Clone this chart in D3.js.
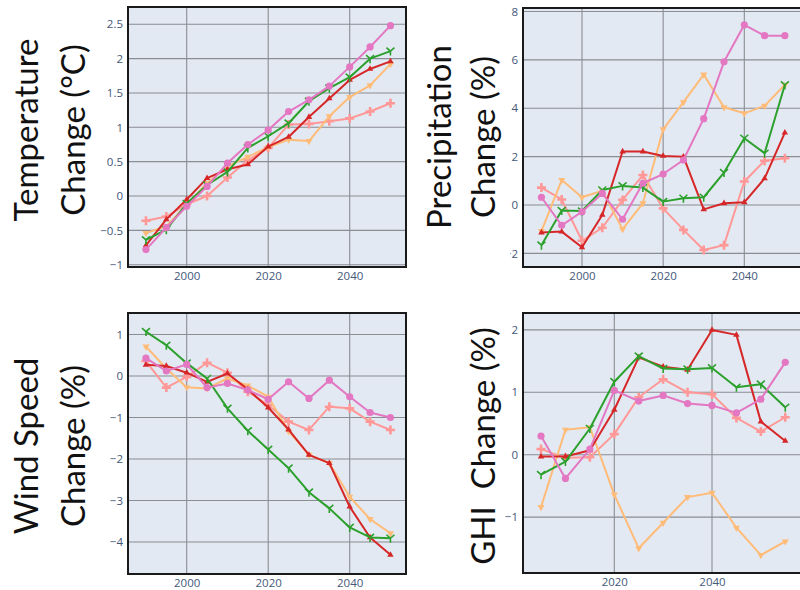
<!DOCTYPE html>
<html><head><meta charset="utf-8">
<script src="https://cdn.jsdelivr.net/npm/d3@7"></script>
<style>
html,body{margin:0;padding:0;background:#fff;}
svg{display:block;}
</style></head>
<body>
<svg id="c" width="800" height="590"></svg>
<script>
// ---------- data ----------
const years = [1990,1995,2000,2005,2010,2015,2020,2025,2030,2035,2040,2045,2050];
const yearsGHI = [2005,2010,2015,2020,2025,2030,2035,2040,2045,2050,2055];

const tempPink   = [-0.78,-0.46,-0.15,0.14,0.48,0.75,0.96,1.23,1.40,1.60,1.88,2.17,2.48];
const tempGreen  = [-0.64,-0.49,-0.11,0.16,0.35,0.70,0.87,1.06,1.38,1.57,1.73,2.00,2.11];
const tempRed    = [-0.72,-0.34,-0.05,0.26,0.39,0.46,0.72,0.86,1.15,1.42,1.69,1.85,1.96];
const tempOrange = [-0.54,-0.44,-0.13,0.19,0.43,0.57,0.71,0.82,0.80,1.16,1.44,1.61,1.92];
const tempSalmon = [-0.36,-0.30,-0.12,0.00,0.27,0.52,0.70,1.04,1.05,1.09,1.13,1.23,1.35];

const precPink   = [0.32,-0.84,-0.28,0.48,-0.59,0.90,1.28,1.86,3.57,5.92,7.45,7.00,7.00];
const precGreen  = [-1.66,-0.23,-0.25,0.62,0.79,0.72,0.14,0.28,0.32,1.34,2.76,2.14,4.97];
const precRed    = [-1.14,-1.10,-1.75,-0.41,2.21,2.21,2.03,2.00,-0.18,0.07,0.11,1.10,2.99];
const precOrange = [-1.08,1.03,0.32,0.59,-1.00,0.07,3.13,4.25,5.39,4.04,3.79,4.10,4.97];
const precSalmon = [0.72,0.23,-1.48,-0.94,0.21,1.24,-0.14,-1.03,-1.86,-1.66,0.97,1.83,1.93];

const windPink   = [0.43,0.12,0.28,-0.28,-0.18,-0.34,-0.56,-0.14,-0.54,-0.10,-0.50,-0.88,-1.00];
const windGreen  = [1.07,0.74,0.31,-0.06,-0.78,-1.32,-1.77,-2.22,-2.80,-3.19,-3.65,-3.89,-3.91];
const windRed    = [0.27,0.24,0.08,-0.14,0.06,-0.32,-0.76,-1.29,-1.90,-2.10,-3.15,-3.89,-4.31];
const windOrange = [0.71,0.18,-0.27,-0.30,-0.06,-0.23,-0.50,-1.33,-1.90,-2.10,-2.91,-3.45,-3.79];
const windSalmon = [0.36,-0.28,-0.02,0.32,0.08,-0.38,-0.70,-1.10,-1.30,-0.74,-0.78,-1.10,-1.30];

const ghiPink   = [0.30,-0.38,0.09,1.03,0.86,0.95,0.82,0.79,0.67,0.89,1.48];
const ghiGreen  = [-0.32,-0.11,0.42,1.17,1.58,1.38,1.37,1.39,1.08,1.13,0.76];
const ghiRed    = [-0.03,-0.03,0.07,0.72,1.56,1.41,1.36,2.00,1.92,0.53,0.22];
const ghiOrange = [-0.84,0.40,0.44,-0.64,-1.50,-1.09,-0.68,-0.61,-1.17,-1.61,-1.39];
const ghiSalmon = [0.09,-0.05,-0.04,0.33,0.92,1.21,1.00,0.97,0.59,0.37,0.60];

const tempTicks = [-1,-0.5,0,0.5,1,1.5,2,2.5];
const precTicks = [-2,0,2,4,6,8];
const windTicks = [-4,-3,-2,-1,0,1];
const ghiTicks  = [-1,0,1,2];
const xTicks    = [2000,2020,2040];

// ---------- styles ----------
const colors = {pink:"#e377c2", green:"#2ca02c", red:"#d62728", orange:"#ffbb78", salmon:"#ff9896"};
const drawOrder = ["salmon","orange","red","green","pink"];

const svg = d3.select("#c");
const defs = svg.append("defs");

function marker(g, kind, x, y) {
  const c = colors[kind];
  if (kind === "pink") {
    g.append("circle").attr("cx", x).attr("cy", y).attr("r", 3.6).attr("fill", c);
  } else if (kind === "red") {
    g.append("path").attr("d", d3.symbol(d3.symbolTriangle, 18)()).attr("transform", `translate(${x},${y})`).attr("fill", c);
  } else if (kind === "orange") {
    g.append("path").attr("d", d3.symbol(d3.symbolTriangle, 22)()).attr("transform", `translate(${x},${y}) rotate(180)`).attr("fill", c);
  } else if (kind === "green") {
    g.append("path").attr("d", "M-4,-3.5L0,0L4,-3.5M0,0L0,4.5").attr("transform", `translate(${x},${y})`)
      .attr("stroke", c).attr("stroke-width", 1.6).attr("fill", "none");
  } else if (kind === "salmon") {
    g.append("path").attr("d", "M-4.5,0L4.5,0M0,-4.5L0,4.5").attr("transform", `translate(${x},${y})`)
      .attr("stroke", c).attr("stroke-width", 2.6).attr("fill", "none");
  }
}

function panel(opt) {
  const {id, x0, x1, y0, y1, xs, ys, xVals, series, yTicks, yFmt} = opt;
  const g = svg.append("g");
  const xT = xTicks.filter(t => xs(t) > x0 && xs(t) < x1);
  defs.append("clipPath").attr("id", "clip" + id)
    .append("rect").attr("x", x0).attr("y", y0).attr("width", x1 - x0).attr("height", y1 - y0);
  g.append("rect").attr("x", x0).attr("y", y0).attr("width", x1 - x0).attr("height", y1 - y0).attr("fill", "#e3e9f3");
  // grid
  const grid = g.append("g");
  grid.selectAll(".gy").data(yTicks).join("line")
    .attr("x1", x0).attr("x2", x1).attr("y1", d => ys(d)).attr("y2", d => ys(d))
    .attr("stroke", "#8a8d92").attr("stroke-width", 1.1);
  grid.selectAll(".gx").data(xT).join("line")
    .attr("x1", d => xs(d)).attr("x2", d => xs(d)).attr("y1", y0).attr("y2", y1)
    .attr("stroke", "#8a8d92").attr("stroke-width", 1.1);
  // series
  const plot = g.append("g").attr("clip-path", `url(#clip${id})`);
  drawOrder.forEach(k => {
    const vals = series[k];
    const pts = xVals.map((xv, i) => [xs(xv), ys(vals[i])]);
    plot.append("path").attr("d", d3.line()(pts)).attr("fill", "none")
      .attr("stroke", colors[k]).attr("stroke-width", 2).attr("stroke-linejoin", "round");
    const mg = plot.append("g");
    pts.forEach(p => marker(mg, k, p[0], p[1]));
  });
  // frame
  g.append("rect").attr("x", x0).attr("y", y0).attr("width", x1 - x0).attr("height", y1 - y0)
    .attr("fill", "none").attr("stroke", "#1a1a1a").attr("stroke-width", 2);
  // y axis labels
  const ya = g.append("g").attr("transform", `translate(${x0 - 5},0)`)
    .call(d3.axisLeft(ys).tickValues(yTicks).tickFormat(yFmt).tickSize(0).tickPadding(0));
  ya.select(".domain").remove();
  ya.selectAll("text").attr("fill", "#44587a").style("font-family", "'Open Sans', sans-serif").style("font-size", "11.5px");
  // x axis labels
  const xa = g.append("g").attr("transform", `translate(0,${y1 + 5})`)
    .call(d3.axisBottom(xs).tickValues(xT).tickFormat(d3.format("d")).tickSize(0).tickPadding(0));
  xa.select(".domain").remove();
  xa.selectAll("text").attr("fill", "#44587a").style("font-family", "'Open Sans', sans-serif").style("font-size", "11.5px");
  return g;
}

function mkSeries(p, g, r, o, s) { return {pink:p, green:g, red:r, orange:o, salmon:s}; }

const fmtMinus = d => d3.format("")(d).replace("-", "\u2212");

// Panel 1: Temperature
const xsL = d3.scaleLinear().domain([2000, 2040]).range([186.7, 349.7]);
panel({id:1, x0:128, x1:406, y0:7, y1:267, xs:xsL,
  ys: d3.scaleLinear().domain([0, 2.5]).range([196, 24.3]),
  xVals: years, series: mkSeries(tempPink,tempGreen,tempRed,tempOrange,tempSalmon),
  yTicks: tempTicks, yFmt: fmtMinus});

// Panel 2: Precipitation
const xsR = d3.scaleLinear().domain([2000, 2040]).range([582, 744.3]);
panel({id:2, x0:523, x1:812, y0:8, y1:267, xs:xsR,
  ys: d3.scaleLinear().domain([0, 8]).range([205, 11.5]),
  xVals: years, series: mkSeries(precPink,precGreen,precRed,precOrange,precSalmon),
  yTicks: precTicks, yFmt: fmtMinus});

// Panel 3: Wind
panel({id:3, x0:128, x1:406, y0:313, y1:574, xs:xsL,
  ys: d3.scaleLinear().domain([0, 1]).range([376, 334.5]),
  xVals: years, series: mkSeries(windPink,windGreen,windRed,windOrange,windSalmon),
  yTicks: windTicks, yFmt: fmtMinus});

// Panel 4: GHI
const xsG = d3.scaleLinear().domain([2020, 2040]).range([614.3, 712]);
panel({id:4, x0:523, x1:812, y0:313, y1:573, xs:xsG,
  ys: d3.scaleLinear().domain([0, 1]).range([454.7, 392.3]),
  xVals: yearsGHI, series: mkSeries(ghiPink,ghiGreen,ghiRed,ghiOrange,ghiSalmon),
  yTicks: ghiTicks, yFmt: d3.format("")});

// ---------- titles ----------
function title(lines, cy, box) {
  const g = svg.append("g");
  if (box) g.append("rect").attr("x", box[0]).attr("y", box[1]).attr("width", box[2]).attr("height", box[3]).attr("fill", "#fff");
  lines.forEach(l => {
    g.append("text").attr("transform", `translate(${l.x},${cy}) rotate(-90)`)
      .attr("text-anchor", "middle").attr("dominant-baseline", "central")
      .style("font-family", "Lato, 'Open Sans', sans-serif").style("font-size", "33px")
      .style("white-space", "pre").attr("fill", "#111")
      .text(l.t);
  });
}
title([{t:"Temperature", x:25}, {t:"Change (\u00b0C)", x:72}], 130);
title([{t:"Precipitation", x:438}, {t:"Change (%)", x:482}], 137, [410, 0, 100, 290]);
title([{t:"Wind Speed", x:25}, {t:"Change (%)", x:72}], 446);
title([{t:"GHI  Change (%)", x:482}], 446);
</script>
</body></html>
